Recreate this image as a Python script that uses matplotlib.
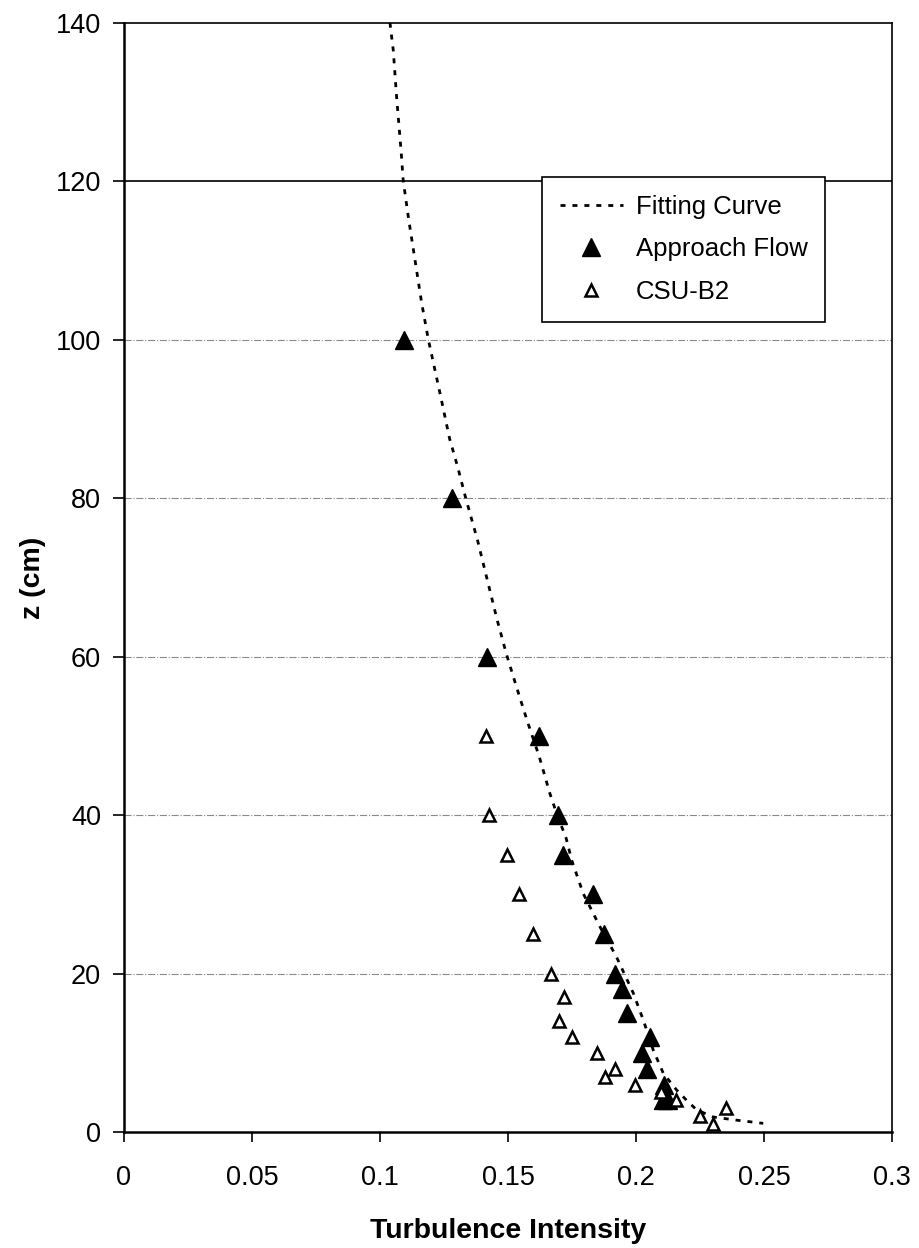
import matplotlib.pyplot as plt

plt.rcParams['font.family'] = ['Liberation Sans', 'DejaVu Sans']

# fitting curve
curve_ti = [0.1039, 0.1052, 0.1065, 0.1082, 0.1091, 0.1113, 0.1139, 0.1163, 0.1189,
            0.1236, 0.1272, 0.1303, 0.1335, 0.1381, 0.1419, 0.1458, 0.1495, 0.1534,
            0.1576, 0.1622, 0.1664, 0.1690, 0.1727, 0.1749, 0.1794, 0.1833, 0.1872,
            0.1921, 0.1990, 0.2029, 0.2068, 0.2107, 0.2159, 0.2198, 0.2237, 0.2302,
            0.2393, 0.2497]
curve_z = [140, 136.5, 130.6, 124, 120, 115, 109.6, 104.6, 100,
           93, 87.5, 84, 80, 74.7, 69.7, 64.6, 60.2, 56.1,
           51.8, 47.4, 42.7, 40.2, 37.1, 34.3, 30.1, 27.6, 25.1,
           22.3, 17.5, 14.1, 10.3, 7.4, 5.3, 4.0, 2.8, 1.9,
           1.5, 1.1]

# approach flow (filled)
approach_ti = [0.1094, 0.128, 0.142, 0.162, 0.1695, 0.1714, 0.1833, 0.1875, 0.192,
               0.1945, 0.1966, 0.2054, 0.2023, 0.2045, 0.2108, 0.2105, 0.2127]
approach_z = [100, 80, 60, 50, 40, 35, 30, 25, 20, 18, 15, 12, 10, 8, 6, 4, 4]

# CSU-B2 (open)
csu_ti = [0.1414, 0.1427, 0.1495, 0.1544, 0.1596, 0.1668, 0.1719, 0.170, 0.1749,
          0.1847, 0.1918, 0.1879, 0.1998, 0.2099, 0.2155, 0.2350, 0.2251, 0.2302]
csu_z = [50, 40, 35, 30, 25, 20, 17, 14, 12, 10, 8, 7, 6, 5, 4, 3, 2, 1]

fig = plt.figure(figsize=(9.19, 12.48), dpi=100)
ax = fig.add_axes([0.1349, 0.0929, 0.8357, 0.8889])

# grid lines
for g in [20, 40, 60, 80, 100]:
    ax.axhline(g, color='#8a8a8a', lw=0.8, ls='-.', zorder=0)
ax.axhline(120, color='black', lw=1.2, zorder=0)

ax.plot(curve_ti, curve_z, color='black', lw=2, ls=(0, (1.8, 2.5)), label='Fitting Curve', zorder=2)
ax.plot(approach_ti, approach_z, ls='none', marker='^', ms=13.5, color='black',
        label='Approach Flow', zorder=3)
ax.plot(csu_ti, csu_z, ls='none', marker='^', ms=9, mfc='white', mec='black', mew=1.8,
        label='CSU-B2', zorder=4)

ax.set_xlim(0, 0.3)
ax.set_ylim(0, 140)
ax.set_xticks([0, 0.05, 0.1, 0.15, 0.2, 0.25, 0.3])
ax.set_xticklabels(['0', '0.05', '0.1', '0.15', '0.2', '0.25', '0.3'])
ax.set_yticks([0, 20, 40, 60, 80, 100, 120, 140])
ax.tick_params(axis='x', direction='out', length=7, width=1.2, labelsize=19.5, pad=16.5)
ax.tick_params(axis='y', direction='out', length=8, width=1.2, labelsize=19.5, pad=8.5)

for s in ['left', 'bottom']:
    ax.spines[s].set_linewidth(1.8)
for s in ['top', 'right']:
    ax.spines[s].set_linewidth(1.2)

ax.set_xlabel('Turbulence Intensity', fontsize=20.5, fontweight='bold', labelpad=20)
ax.set_ylabel('z (cm)', fontsize=20.5, fontweight='bold', labelpad=7)

leg = ax.legend(loc='upper left', bbox_to_anchor=(0.544, 0.861), fontsize=18.5,
                frameon=True, fancybox=False, edgecolor='black', framealpha=1,
                handlelength=2.45, handletextpad=0.5, borderpad=0.7,
                labelspacing=0.72, borderaxespad=0)
leg.get_frame().set_linewidth(1.2)

fig.savefig('out.png', dpi=100)
